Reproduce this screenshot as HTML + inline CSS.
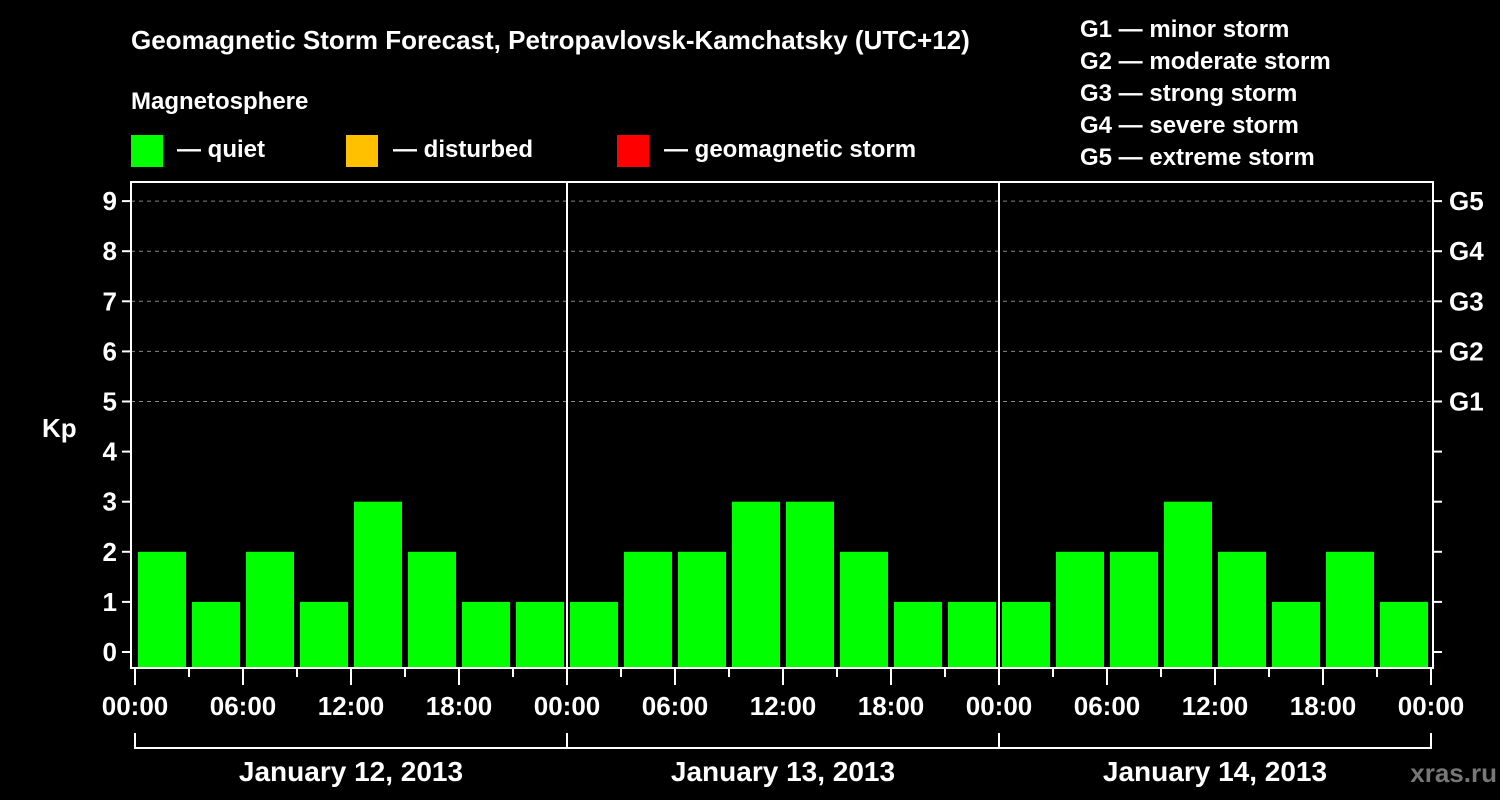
<!DOCTYPE html>
<html><head><meta charset="utf-8"><style>
html,body{margin:0;padding:0;background:#000;}
svg{display:block;font-family:"Liberation Sans",Arial,sans-serif;font-weight:bold;}
</style></head><body>
<svg id="c" width="1500" height="800" viewBox="0 0 1500 800">
<rect x="0" y="0" width="1500" height="800" fill="#000"/>
<text x="131" y="49" fill="#fff" font-size="26">Geomagnetic Storm Forecast, Petropavlovsk-Kamchatsky (UTC+12)</text>
<text x="131" y="109" fill="#fff" font-size="24">Magnetosphere</text>
<g><rect x="131" y="135" width="32" height="32" fill="#00ff00"/><text x="177" y="157" fill="#fff" font-size="24">— quiet</text></g>
<g><rect x="346" y="135" width="32" height="32" fill="#ffc000"/><text x="393" y="157" fill="#fff" font-size="24">— disturbed</text></g>
<g><rect x="617" y="135" width="32" height="32" fill="#ff0000"/><text x="664" y="157" fill="#fff" font-size="24">— geomagnetic storm</text></g>
<g fill="#fff" font-size="24">
<text x="1080" y="37">G1 — minor storm</text>
<text x="1080" y="69">G2 — moderate storm</text>
<text x="1080" y="101">G3 — strong storm</text>
<text x="1080" y="133">G4 — severe storm</text>
<text x="1080" y="165">G5 — extreme storm</text>
</g>
<text x="42" y="437" fill="#fff" font-size="26">Kp</text>
<text x="1497" y="782" fill="#777" font-size="26" text-anchor="end">xras.ru</text>
<g id="plot"></g>
</svg>
<script>
const days = ["January 12, 2013","January 13, 2013","January 14, 2013"];
const kpValues = [2,1,2,1,3,2,1,1, 1,2,2,3,3,2,1,1, 1,2,2,3,2,1,2,1];
const yTicks = [0,1,2,3,4,5,6,7,8,9];
const gLabels = ["G1","G2","G3","G4","G5"];
const gLevels = [5,6,7,8,9];
const hourLabels = ["00:00","06:00","12:00","18:00"];

const NS="http://www.w3.org/2000/svg";
const plot=document.getElementById('plot');
const L=131,R=1433,T=182,B=668,X0=135,dayW=432;
const y=v=>652-50.1*v;
const x=h=>X0+h*(dayW/24);
function mk(tag,attrs,parent){const e=document.createElementNS(NS,tag);for(const k in attrs)e.setAttribute(k,attrs[k]);(parent||plot).appendChild(e);return e;}

// grid
yTicks.forEach(v=>{
  if(v>=5){const g=mk('line',{x1:L,x2:R,y1:y(v),y2:y(v),stroke:'#888','stroke-width':1,'stroke-dasharray':'4,4'});
  
  }
  const t=mk('line',{x1:L-9,x2:L,y1:y(v),y2:y(v),stroke:'#fff','stroke-width':2});
  
  
  const t2=mk('line',{x1:R,x2:R+9,y1:y(v),y2:y(v),stroke:'#fff','stroke-width':2});
  
  
  const lb=mk('text',{x:L-14,y:y(v)+9,fill:'#fff','font-size':26,'text-anchor':'end'});
  lb.textContent=v;
  
  
});
gLabels.forEach((g,i)=>{
  const lb=mk('text',{x:R+16,y:y(gLevels[i])+9,fill:'#fff','font-size':26});
  lb.textContent=g;
  
  
});
// bars
kpValues.forEach((v,i)=>{
  const b=mk('rect',{x:x(i*3)+3,y:y(v),width:48,height:B-y(v),fill:'#00ff00'});
  
  
});
// day separators
for(let d=1;d<days.length;d++){
  const s=mk('line',{x1:x(d*24),x2:x(d*24),y1:T,y2:B,stroke:'#fff','stroke-width':2});
  
  
}
// frame
const fr=mk('rect',{x:L,y:T,width:R-L,height:B-T,fill:'none',stroke:'#fff','stroke-width':2});


// x ticks
for(let h=0;h<=days.length*24;h+=3){
  const major=h%6===0;
  const tk=mk('line',{x1:x(h),x2:x(h),y1:B,y2:B+(major?17:9),stroke:'#fff','stroke-width':2});
  
  
  if(major){
    const lb=mk('text',{x:x(h),y:715,fill:'#fff','font-size':26,'text-anchor':'middle'});
    lb.textContent=hourLabels[(h/6)%4];
    
    
  }
}
// date brackets
days.forEach((d,i)=>{
  const p=mk('path',{d:`M${x(i*24)} 733 V748 H${x((i+1)*24)} V733`,fill:'none',stroke:'#fff','stroke-width':2});
  
  
  const lb=mk('text',{x:x(i*24+12),y:781,fill:'#fff','font-size':28,'text-anchor':'middle'});
  lb.textContent=d;
  
  
});
</script>
</body></html>
